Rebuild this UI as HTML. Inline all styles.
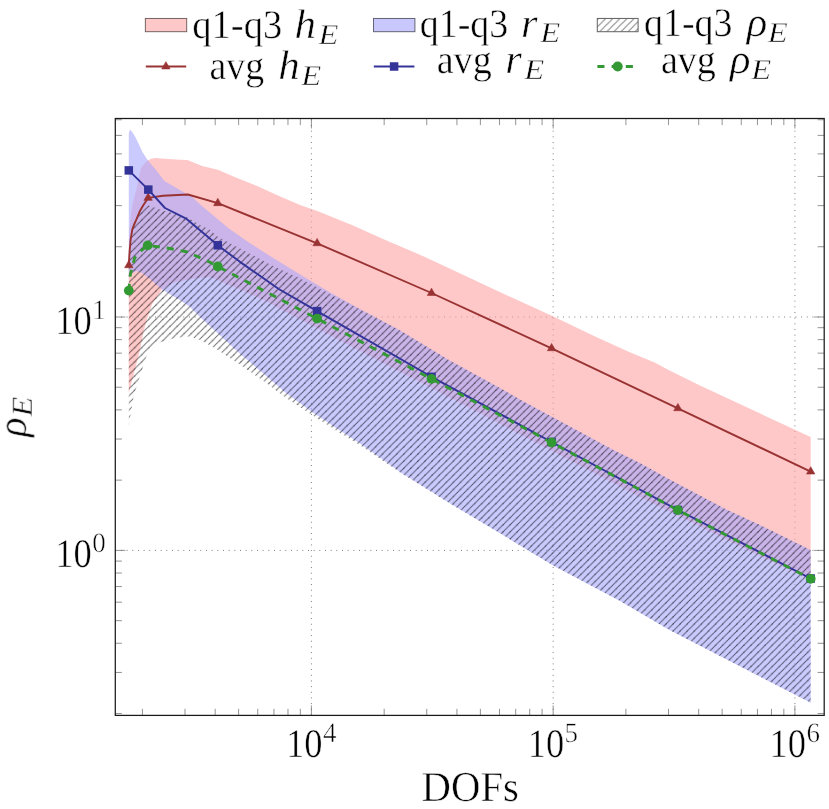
<!DOCTYPE html>
<html lang="en"><head><meta charset="utf-8"><title>rho_E vs DOFs</title>
<style>
html,body{margin:0;padding:0;background:#fff;}
body{width:829px;height:809px;overflow:hidden;}
svg{display:block;}
text{text-rendering:geometricPrecision;}
text{font-family:"Liberation Serif",serif;fill:#000;stroke:#fff;stroke-width:0.5px;}
.it{font-style:italic;}
</style></head><body>
<svg width="829" height="809" viewBox="0 0 829 809">
<defs>
<pattern id="ne" width="7.085" height="7.085" patternUnits="userSpaceOnUse" x="0" y="0.5">
<path d="M-1.771,8.856 L8.856,-1.771 M-1.771,1.771 L1.771,-1.771 M5.314,8.856 L8.856,5.314" stroke="#000" stroke-opacity="0.6" stroke-width="0.9" fill="none"/>
<g fill="#000" fill-opacity="0.3"><circle cx="0" cy="0" r="0.75"/><circle cx="7.085" cy="0" r="0.75"/><circle cx="0" cy="7.085" r="0.75"/><circle cx="7.085" cy="7.085" r="0.75"/></g>
</pattern>
<pattern id="ne2" width="7.085" height="7.085" patternUnits="userSpaceOnUse" x="0.3" y="0.5"><path d="M-1.771,8.856 L8.856,-1.771 M-1.771,1.771 L1.771,-1.771 M5.314,8.856 L8.856,5.314" stroke="#000" stroke-opacity="0.52" stroke-width="0.95" fill="none"/></pattern>
<clipPath id="axclip"><rect x="115.3" y="118.5" width="708.9" height="596.9"/></clipPath>
</defs>
<rect x="0" y="0" width="829" height="809" fill="#fff"/>
<g stroke="#707070" stroke-width="0.95" stroke-dasharray="0.945 4.723" fill="none">
<line x1="311.40" y1="715.4" x2="311.40" y2="118.5"/>
<line x1="553.15" y1="715.4" x2="553.15" y2="118.5"/>
<line x1="794.90" y1="715.4" x2="794.90" y2="118.5"/>
<line x1="115.3" y1="550.40" x2="824.2" y2="550.40"/>
<line x1="115.3" y1="317.00" x2="824.2" y2="317.00"/>
</g>
<g stroke="#666" stroke-width="0.7" fill="none">
<line x1="142.42" y1="715.4" x2="142.42" y2="708.8"/>
<line x1="142.42" y1="118.5" x2="142.42" y2="125.1"/>
<line x1="184.99" y1="715.4" x2="184.99" y2="708.8"/>
<line x1="184.99" y1="118.5" x2="184.99" y2="125.1"/>
<line x1="215.20" y1="715.4" x2="215.20" y2="708.8"/>
<line x1="215.20" y1="118.5" x2="215.20" y2="125.1"/>
<line x1="238.63" y1="715.4" x2="238.63" y2="708.8"/>
<line x1="238.63" y1="118.5" x2="238.63" y2="125.1"/>
<line x1="257.77" y1="715.4" x2="257.77" y2="708.8"/>
<line x1="257.77" y1="118.5" x2="257.77" y2="125.1"/>
<line x1="273.95" y1="715.4" x2="273.95" y2="708.8"/>
<line x1="273.95" y1="118.5" x2="273.95" y2="125.1"/>
<line x1="287.97" y1="715.4" x2="287.97" y2="708.8"/>
<line x1="287.97" y1="118.5" x2="287.97" y2="125.1"/>
<line x1="300.34" y1="715.4" x2="300.34" y2="708.8"/>
<line x1="300.34" y1="118.5" x2="300.34" y2="125.1"/>
<line x1="311.40" y1="715.4" x2="311.40" y2="705.4"/>
<line x1="311.40" y1="118.5" x2="311.40" y2="128.5"/>
<line x1="384.17" y1="715.4" x2="384.17" y2="708.8"/>
<line x1="384.17" y1="118.5" x2="384.17" y2="125.1"/>
<line x1="426.74" y1="715.4" x2="426.74" y2="708.8"/>
<line x1="426.74" y1="118.5" x2="426.74" y2="125.1"/>
<line x1="456.95" y1="715.4" x2="456.95" y2="708.8"/>
<line x1="456.95" y1="118.5" x2="456.95" y2="125.1"/>
<line x1="480.38" y1="715.4" x2="480.38" y2="708.8"/>
<line x1="480.38" y1="118.5" x2="480.38" y2="125.1"/>
<line x1="499.52" y1="715.4" x2="499.52" y2="708.8"/>
<line x1="499.52" y1="118.5" x2="499.52" y2="125.1"/>
<line x1="515.70" y1="715.4" x2="515.70" y2="708.8"/>
<line x1="515.70" y1="118.5" x2="515.70" y2="125.1"/>
<line x1="529.72" y1="715.4" x2="529.72" y2="708.8"/>
<line x1="529.72" y1="118.5" x2="529.72" y2="125.1"/>
<line x1="542.09" y1="715.4" x2="542.09" y2="708.8"/>
<line x1="542.09" y1="118.5" x2="542.09" y2="125.1"/>
<line x1="553.15" y1="715.4" x2="553.15" y2="705.4"/>
<line x1="553.15" y1="118.5" x2="553.15" y2="128.5"/>
<line x1="625.92" y1="715.4" x2="625.92" y2="708.8"/>
<line x1="625.92" y1="118.5" x2="625.92" y2="125.1"/>
<line x1="668.49" y1="715.4" x2="668.49" y2="708.8"/>
<line x1="668.49" y1="118.5" x2="668.49" y2="125.1"/>
<line x1="698.70" y1="715.4" x2="698.70" y2="708.8"/>
<line x1="698.70" y1="118.5" x2="698.70" y2="125.1"/>
<line x1="722.13" y1="715.4" x2="722.13" y2="708.8"/>
<line x1="722.13" y1="118.5" x2="722.13" y2="125.1"/>
<line x1="741.27" y1="715.4" x2="741.27" y2="708.8"/>
<line x1="741.27" y1="118.5" x2="741.27" y2="125.1"/>
<line x1="757.45" y1="715.4" x2="757.45" y2="708.8"/>
<line x1="757.45" y1="118.5" x2="757.45" y2="125.1"/>
<line x1="771.47" y1="715.4" x2="771.47" y2="708.8"/>
<line x1="771.47" y1="118.5" x2="771.47" y2="125.1"/>
<line x1="783.84" y1="715.4" x2="783.84" y2="708.8"/>
<line x1="783.84" y1="118.5" x2="783.84" y2="125.1"/>
<line x1="794.90" y1="715.4" x2="794.90" y2="705.4"/>
<line x1="794.90" y1="118.5" x2="794.90" y2="128.5"/>
<line x1="115.3" y1="713.54" x2="121.9" y2="713.54"/>
<line x1="824.2" y1="713.54" x2="817.6" y2="713.54"/>
<line x1="115.3" y1="672.44" x2="121.9" y2="672.44"/>
<line x1="824.2" y1="672.44" x2="817.6" y2="672.44"/>
<line x1="115.3" y1="643.28" x2="121.9" y2="643.28"/>
<line x1="824.2" y1="643.28" x2="817.6" y2="643.28"/>
<line x1="115.3" y1="620.66" x2="121.9" y2="620.66"/>
<line x1="824.2" y1="620.66" x2="817.6" y2="620.66"/>
<line x1="115.3" y1="602.18" x2="121.9" y2="602.18"/>
<line x1="824.2" y1="602.18" x2="817.6" y2="602.18"/>
<line x1="115.3" y1="586.55" x2="121.9" y2="586.55"/>
<line x1="824.2" y1="586.55" x2="817.6" y2="586.55"/>
<line x1="115.3" y1="573.02" x2="121.9" y2="573.02"/>
<line x1="824.2" y1="573.02" x2="817.6" y2="573.02"/>
<line x1="115.3" y1="561.08" x2="121.9" y2="561.08"/>
<line x1="824.2" y1="561.08" x2="817.6" y2="561.08"/>
<line x1="115.3" y1="550.40" x2="125.3" y2="550.40"/>
<line x1="824.2" y1="550.40" x2="814.2" y2="550.40"/>
<line x1="115.3" y1="480.14" x2="121.9" y2="480.14"/>
<line x1="824.2" y1="480.14" x2="817.6" y2="480.14"/>
<line x1="115.3" y1="439.04" x2="121.9" y2="439.04"/>
<line x1="824.2" y1="439.04" x2="817.6" y2="439.04"/>
<line x1="115.3" y1="409.88" x2="121.9" y2="409.88"/>
<line x1="824.2" y1="409.88" x2="817.6" y2="409.88"/>
<line x1="115.3" y1="387.26" x2="121.9" y2="387.26"/>
<line x1="824.2" y1="387.26" x2="817.6" y2="387.26"/>
<line x1="115.3" y1="368.78" x2="121.9" y2="368.78"/>
<line x1="824.2" y1="368.78" x2="817.6" y2="368.78"/>
<line x1="115.3" y1="353.15" x2="121.9" y2="353.15"/>
<line x1="824.2" y1="353.15" x2="817.6" y2="353.15"/>
<line x1="115.3" y1="339.62" x2="121.9" y2="339.62"/>
<line x1="824.2" y1="339.62" x2="817.6" y2="339.62"/>
<line x1="115.3" y1="327.68" x2="121.9" y2="327.68"/>
<line x1="824.2" y1="327.68" x2="817.6" y2="327.68"/>
<line x1="115.3" y1="317.00" x2="125.3" y2="317.00"/>
<line x1="824.2" y1="317.00" x2="814.2" y2="317.00"/>
<line x1="115.3" y1="246.74" x2="121.9" y2="246.74"/>
<line x1="824.2" y1="246.74" x2="817.6" y2="246.74"/>
<line x1="115.3" y1="205.64" x2="121.9" y2="205.64"/>
<line x1="824.2" y1="205.64" x2="817.6" y2="205.64"/>
<line x1="115.3" y1="176.48" x2="121.9" y2="176.48"/>
<line x1="824.2" y1="176.48" x2="817.6" y2="176.48"/>
<line x1="115.3" y1="153.86" x2="121.9" y2="153.86"/>
<line x1="824.2" y1="153.86" x2="817.6" y2="153.86"/>
<line x1="115.3" y1="135.38" x2="121.9" y2="135.38"/>
<line x1="824.2" y1="135.38" x2="817.6" y2="135.38"/>
<line x1="115.3" y1="119.75" x2="121.9" y2="119.75"/>
<line x1="824.2" y1="119.75" x2="817.6" y2="119.75"/>
</g>
<g clip-path="url(#axclip)">
<polygon points="128.8,250.0 129.4,230.0 130.9,214.8 132.9,202.4 136.3,190.0 138.3,180.7 139.8,173.3 141.3,167.3 144.5,163.5 147.7,160.4 151.0,158.8 155.6,158.0 164.5,158.7 180.0,159.7 187.4,160.0 202.2,166.0 217.8,169.7 236.4,177.8 257.1,186.0 277.9,195.6 300.0,204.9 317.3,211.1 351.9,225.0 386.5,240.6 421.1,255.3 440.0,263.9 464.6,275.5 499.2,291.7 533.8,307.5 552.9,316.3 594.6,336.3 629.2,351.9 655.2,362.8 669.0,370.2 700.0,385.6 810.7,437.0 810.7,580.0 760.0,556.0 640.0,497.0 520.0,434.3 440.0,392.6 350.0,345.8 335.3,338.1 318.7,328.9 279.1,308.6 270.0,303.0 239.6,289.3 210.0,277.0 196.5,278.0 174.3,282.6 161.9,289.4 152.0,304.3 147.0,319.0 143.4,332.5 139.7,351.0 134.7,370.8 128.8,393.0" fill="rgb(255,163,163)" fill-opacity="0.6"/>
<polygon points="128.8,133.0 129.6,130.6 130.4,130.0 132.0,131.8 134.8,136.1 138.5,143.5 142.3,151.7 147.4,159.8 155.6,169.5 164.5,181.0 180.0,189.9 191.9,196.8 200.0,204.2 209.7,212.6 217.8,219.2 228.9,228.5 248.2,242.1 270.0,256.0 299.7,274.3 329.3,292.1 359.0,308.4 390.0,324.9 399.4,330.0 448.9,360.0 500.0,387.9 520.0,399.5 613.5,450.0 640.0,463.0 669.7,479.5 726.4,509.5 760.0,525.0 810.7,550.1 810.7,702.8 669.0,629.7 620.0,600.9 553.1,565.5 500.0,533.3 449.4,503.0 400.0,472.0 360.0,443.4 334.2,426.7 311.3,411.5 284.7,392.1 264.2,374.3 239.4,353.3 214.7,330.6 200.0,317.0 190.0,306.9 179.8,300.0 161.9,289.4 150.0,279.0 142.0,273.0 136.6,270.9 132.0,273.0 128.8,277.0" fill="rgb(166,166,255)" fill-opacity="0.6"/>
<polygon points="128.8,265.3 129.4,254.2 130.6,239.4 132.4,228.6 133.9,224.2 136.3,219.0 139.8,212.0 143.3,208.5 148.3,205.5 164.6,211.0 186.6,217.0 200.0,225.0 210.0,229.8 217.8,236.8 259.3,258.6 270.0,264.6 299.7,278.3 329.3,293.6 359.0,308.8 390.0,324.9 399.4,330.0 448.9,360.0 500.0,387.9 520.0,399.5 613.5,450.0 640.0,463.0 669.7,479.5 726.4,509.5 760.0,525.0 810.7,550.1 810.7,702.8 669.0,629.7 620.0,600.9 553.1,565.5 500.0,533.3 449.4,503.2 400.0,472.6 360.0,445.3 334.2,429.2 311.3,414.4 284.7,397.1 264.2,381.5 239.4,364.2 214.7,348.1 200.0,340.0 190.0,336.8 186.6,336.2 171.8,338.7 159.4,342.4 147.0,354.7 139.7,377.0 133.5,396.7 128.8,425.2" fill="url(#ne)"/>
<polyline points="128.8,265.3 129.4,254.7 129.8,249.2 130.6,239.9 132.4,229.1 133.9,225.0 136.3,219.7 139.8,211.3 143.3,205.2 148.1,197.9 163.0,195.8 187.9,194.5 217.8,203.2 317.1,243.3 431.5,293.0 551.6,348.3 677.9,408.3 810.7,471.6" fill="none" stroke="#993333" stroke-width="1.9" stroke-linejoin="round"/>
<polyline points="128.8,170.4 148.3,189.6 165.0,208.0 186.6,218.9 217.8,245.3 239.6,261.6 279.1,289.3 317.1,311.1 431.5,376.8 551.6,442.0 677.9,510.0 810.7,578.5" fill="none" stroke="#333399" stroke-width="1.9" stroke-linejoin="round"/>
<polyline points="128.8,290.6 130.4,274.0 134.7,257.9 142.1,249.8 147.7,245.4 166.9,248.0 186.6,251.7 199.0,257.3 210.0,262.2 217.8,266.5 317.1,318.6 431.5,378.9 551.6,442.5 677.9,510.1 810.7,578.8" fill="none" stroke="#339933" stroke-width="2.9" stroke-dasharray="7.085 7.085" stroke-dashoffset="0.2" stroke-linejoin="round"/>
</g>
<polygon points="128.80,260.43 124.60,267.73 133.00,267.73" fill="#993333" stroke="#993333" stroke-width="0.6" stroke-linejoin="miter"/>
<polygon points="148.10,193.03 143.90,200.33 152.30,200.33" fill="#993333" stroke="#993333" stroke-width="0.6" stroke-linejoin="miter"/>
<polygon points="217.80,198.33 213.60,205.63 222.00,205.63" fill="#993333" stroke="#993333" stroke-width="0.6" stroke-linejoin="miter"/>
<polygon points="317.10,238.43 312.90,245.73 321.30,245.73" fill="#993333" stroke="#993333" stroke-width="0.6" stroke-linejoin="miter"/>
<polygon points="431.50,288.13 427.30,295.43 435.70,295.43" fill="#993333" stroke="#993333" stroke-width="0.6" stroke-linejoin="miter"/>
<polygon points="551.60,343.43 547.40,350.73 555.80,350.73" fill="#993333" stroke="#993333" stroke-width="0.6" stroke-linejoin="miter"/>
<polygon points="677.90,403.43 673.70,410.73 682.10,410.73" fill="#993333" stroke="#993333" stroke-width="0.6" stroke-linejoin="miter"/>
<polygon points="810.70,466.73 806.50,474.03 814.90,474.03" fill="#993333" stroke="#993333" stroke-width="0.6" stroke-linejoin="miter"/>
<rect x="124.55" y="166.15" width="8.50" height="8.50" fill="#333399"/>
<rect x="144.05" y="185.35" width="8.50" height="8.50" fill="#333399"/>
<rect x="213.55" y="241.05" width="8.50" height="8.50" fill="#333399"/>
<rect x="312.85" y="306.85" width="8.50" height="8.50" fill="#333399"/>
<rect x="427.25" y="372.55" width="8.50" height="8.50" fill="#333399"/>
<rect x="547.35" y="437.75" width="8.50" height="8.50" fill="#333399"/>
<rect x="673.65" y="505.75" width="8.50" height="8.50" fill="#333399"/>
<rect x="806.45" y="574.25" width="8.50" height="8.50" fill="#333399"/>
<circle cx="128.80" cy="290.60" r="4.90" fill="#339933"/>
<circle cx="147.70" cy="245.40" r="4.90" fill="#339933"/>
<circle cx="217.80" cy="266.50" r="4.90" fill="#339933"/>
<circle cx="317.10" cy="318.60" r="4.90" fill="#339933"/>
<circle cx="431.50" cy="378.90" r="4.90" fill="#339933"/>
<circle cx="551.60" cy="442.50" r="4.90" fill="#339933"/>
<circle cx="677.90" cy="510.10" r="4.90" fill="#339933"/>
<circle cx="810.70" cy="578.80" r="4.90" fill="#339933"/>
<rect x="115.3" y="118.5" width="708.9" height="596.9" fill="none" stroke="#1a1a1a" stroke-width="1.25"/>
<g opacity="0.996">
<text x="286.0" y="757.2" font-size="40.5" textLength="36.5" lengthAdjust="spacingAndGlyphs">10</text><text x="322.9" y="742.1" font-size="28" textLength="13.5" lengthAdjust="spacingAndGlyphs">4</text>
<text x="527.8" y="757.2" font-size="40.5" textLength="36.5" lengthAdjust="spacingAndGlyphs">10</text><text x="564.6" y="742.1" font-size="28" textLength="13.5" lengthAdjust="spacingAndGlyphs">5</text>
<text x="769.5" y="757.2" font-size="40.5" textLength="36.5" lengthAdjust="spacingAndGlyphs">10</text><text x="806.4" y="742.1" font-size="28" textLength="13.5" lengthAdjust="spacingAndGlyphs">6</text>
<text x="55.3" y="567.3" font-size="40.5" textLength="36.5" lengthAdjust="spacingAndGlyphs">10</text><text x="92.2" y="552.2" font-size="28" textLength="13.5" lengthAdjust="spacingAndGlyphs">0</text>
<text x="55.3" y="333.9" font-size="40.5" textLength="36.5" lengthAdjust="spacingAndGlyphs">10</text><text x="92.2" y="318.8" font-size="28" textLength="13.5" lengthAdjust="spacingAndGlyphs">1</text>
<text x="421.6" y="800.8" font-size="42.5" textLength="97.3" lengthAdjust="spacingAndGlyphs">DOFs</text>
<g transform="translate(25.8,436.9) rotate(-90)"><text class="it" x="0" y="0" font-size="41" textLength="19.5" lengthAdjust="spacingAndGlyphs">ρ</text><text class="it" x="20.3" y="6.2" font-size="29" textLength="20" lengthAdjust="spacingAndGlyphs">E</text></g>
<rect x="145.35" y="18.45" width="41.35" height="13.25" fill="rgb(255,200,200)" stroke="#6e5c5c" stroke-width="0.95"/>
<rect x="373.5" y="18.45" width="41.4" height="13.25" fill="rgb(200,200,255)" stroke="#5c5c6e" stroke-width="0.95"/>
<rect x="597.3" y="18.45" width="40.8" height="13.25" fill="url(#ne2)" stroke="#666" stroke-width="1.05"/>
<line x1="145.8" y1="66.5" x2="186.2" y2="66.5" stroke="#993333" stroke-width="1.95"/>
<polygon points="165.90,61.63 161.70,68.93 170.10,68.93" fill="#993333" stroke="#993333" stroke-width="0.6" stroke-linejoin="miter"/>
<line x1="373.8" y1="66.5" x2="414.4" y2="66.5" stroke="#333399" stroke-width="1.95"/>
<rect x="389.85" y="62.25" width="8.50" height="8.50" fill="#333399"/>
<line x1="597.4" y1="66.5" x2="633" y2="66.5" stroke="#339933" stroke-width="3.1" stroke-dasharray="7.1 7.1"/>
<circle cx="617.70" cy="66.50" r="5.00" fill="#339933"/>
<text x="192.3" y="38.0" font-size="40.5" textLength="90.0" lengthAdjust="spacingAndGlyphs">q1-q3</text><text class="it" x="294.5" y="38.0" font-size="41.5" textLength="21.5" lengthAdjust="spacingAndGlyphs">h</text><text class="it" x="318.6" y="43.6" font-size="28.5" textLength="20" lengthAdjust="spacingAndGlyphs">E</text>
<text x="209.6" y="79.1" font-size="40.5" textLength="54.5" lengthAdjust="spacingAndGlyphs">avg</text><text class="it" x="278.2" y="79.1" font-size="41.5" textLength="21.5" lengthAdjust="spacingAndGlyphs">h</text><text class="it" x="301.2" y="84.7" font-size="28.5" textLength="20" lengthAdjust="spacingAndGlyphs">E</text>
<text x="419.8" y="36.7" font-size="40.5" textLength="88.5" lengthAdjust="spacingAndGlyphs">q1-q3</text><text class="it" x="521.0" y="36.7" font-size="41.5" textLength="16.5" lengthAdjust="spacingAndGlyphs">r</text><text class="it" x="540.3" y="42.3" font-size="28.5" textLength="20" lengthAdjust="spacingAndGlyphs">E</text>
<text x="436.7" y="73.3" font-size="40.5" textLength="55.0" lengthAdjust="spacingAndGlyphs">avg</text><text class="it" x="505.2" y="73.3" font-size="41.5" textLength="16.5" lengthAdjust="spacingAndGlyphs">r</text><text class="it" x="524.2" y="78.9" font-size="28.5" textLength="20" lengthAdjust="spacingAndGlyphs">E</text>
<text x="644.0" y="36.4" font-size="40.5" textLength="88.5" lengthAdjust="spacingAndGlyphs">q1-q3</text><text class="it" x="746.7" y="36.4" font-size="41.5" textLength="20.5" lengthAdjust="spacingAndGlyphs">ρ</text><text class="it" x="767.8" y="42.0" font-size="28.5" textLength="20" lengthAdjust="spacingAndGlyphs">E</text>
<text x="660.9" y="73.3" font-size="40.5" textLength="55.0" lengthAdjust="spacingAndGlyphs">avg</text><text class="it" x="729.9" y="73.3" font-size="41.5" textLength="20.5" lengthAdjust="spacingAndGlyphs">ρ</text><text class="it" x="751.2" y="78.9" font-size="28.5" textLength="20" lengthAdjust="spacingAndGlyphs">E</text>
</g>
</svg></body></html>
